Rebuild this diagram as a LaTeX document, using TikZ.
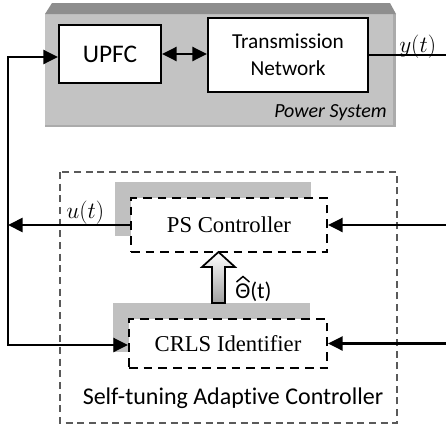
\RequirePackage{fix-cm}
\documentclass[tikz,border=0pt]{standalone}
\usepackage{fontspec}
\setmainfont{Liberation Serif}
\newfontfamily\calfont[Ligatures={NoCommon}]{Carlito}
\usetikzlibrary{arrows.meta}
\definecolor{psgray}{HTML}{C3C3C3}
\definecolor{psdark}{HTML}{8E8E8E}
\definecolor{psedge}{HTML}{ABABAB}
\definecolor{shadowgray}{HTML}{C0C0C0}
\definecolor{outergray}{HTML}{5A5A5A}
\begin{document}
\begin{tikzpicture}[x=0.75pt,y=-0.75pt,
  blk/.style={draw=black, line width=1.6pt, fill=white, inner sep=0pt, align=center},
  dblk/.style={draw=black, line width=1.6pt, dash pattern=on 6.5pt off 4.5pt, fill=white, inner sep=0pt},
  sig/.style={line width=2pt, -{Triangle[length=11pt,width=10.5pt]}},
  dsig/.style={line width=2pt, {Triangle[length=11pt,width=10.5pt]}-{Triangle[length=11pt,width=10.5pt]}},
  wire/.style={line width=2pt},
  calri/.style={font=\calfont\fontsize{18}{21}\selectfont},
  timesf/.style={font=\fontsize{17}{20}\selectfont},
  mathlab/.style={font=\fontsize{17.5}{20}\selectfont, inner sep=0pt},
]
\useasboundingbox (0,0) rectangle (446,429);

% Power system block
\fill[psgray] (45,14) rectangle (396,127);
\fill[psedge] (393,14) rectangle (396,127);
\fill[psedge] (45,124.5) rectangle (396,127);
\fill[psdark] (45,14) -- (52,3) -- (390,3) -- (396,14) -- cycle;

\node[blk, minimum width=76.5pt, minimum height=43.5pt, font=\calfont\fontsize{19}{22}\selectfont] (upfc) at (110,54) {UPFC};
\node[blk, minimum width=120pt, minimum height=55.5pt, font=\calfont\fontsize{16}{20}\selectfont] (tn) at (288,55) {Transmission\\Network};
\node[anchor=base east, inner sep=0pt, font=\calfont\itshape\fontsize{15}{18}\selectfont] (pslabel) at (387,117) {Power System};

% Self-tuning adaptive controller
\draw[outergray, line width=1.1pt, dash pattern=on 5.25pt off 3.5pt] (60,172) rectangle (397,423);
\fill[shadowgray] (115,182) rectangle (311,236);
\fill[shadowgray] (113,303) rectangle (310,352);
\node[dblk, minimum width=147pt, minimum height=40.5pt, timesf] (ps) at (229,225) {PS Controller};
\node[dblk, minimum width=148.5pt, minimum height=36.75pt, timesf] (crls) at (228,343.5) {CRLS Identifier};
\node[anchor=base, inner sep=0pt, calri] (stlabel) at (233,404) {Self-tuning Adaptive Controller};

% hollow arrow theta
\shade[top color=white, bottom color=gray!75, draw=black, line width=1.3pt]
  (218.5,252) -- (235,267) -- (225,267) -- (225,303) -- (212,303) -- (212,267) -- (202,267) -- cycle;
\node[anchor=base west, inner sep=0pt, font=\calfont\fontsize{17}{20}\selectfont] (theta) at (235,298) {Θ(t)};
\draw[line width=1.1pt, line join=miter] (236.5,282) -- (243,276.5) -- (249.5,282);

% connectors
\coordinate (fbtop) at (8,57);
\coordinate (fbbot) at (8,345);
\coordinate (yout) at (446,55);
\coordinate (in1) at (446,225);
\coordinate (in2) at (446,343.5);
\draw[dsig, line join=miter] (upfc.west |- fbtop) -- (fbtop) -- (fbbot) -- (crls.west |- fbbot);
\draw[dsig] (upfc.east) -- (upfc.east -| tn.west);
\draw[wire] (tn.east) -- (yout);
\draw[sig] (ps.west) -- (ps.west -| fbtop);
\draw[sig] (in1) -- (ps.east);
\draw[sig] (in2) -- (crls.east);

\node[anchor=base west, mathlab] (ylabel) at (399,52) {$y(t)$};
\node[anchor=base west, mathlab] (ulabel) at (66,218) {$u(t)$};
\end{tikzpicture}
\end{document}
